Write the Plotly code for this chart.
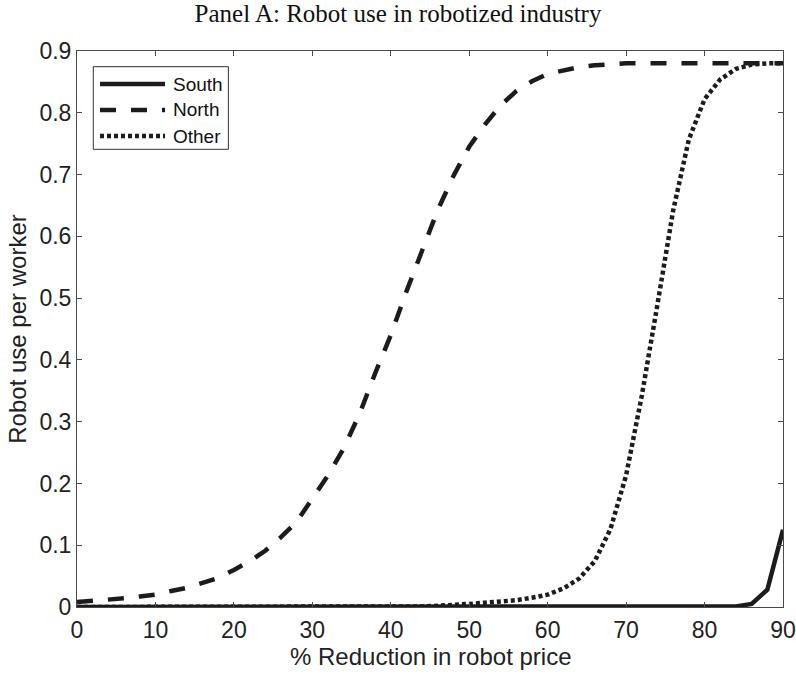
import plotly.graph_objects as go

reduction = list(range(0, 92, 2))  # % reduction in robot price

south = [0.0]*42 + [0.001, 0.005, 0.028, 0.125]

north = [0.008, 0.010, 0.011, 0.014, 0.017, 0.020, 0.026, 0.031, 0.039, 0.047,
         0.060, 0.074, 0.091, 0.113, 0.138, 0.175, 0.213, 0.257, 0.312, 0.378,
         0.440, 0.511, 0.575, 0.643, 0.698, 0.745, 0.781, 0.812, 0.835, 0.851,
         0.863, 0.869, 0.874, 0.877, 0.879, 0.880, 0.880, 0.880, 0.880, 0.880,
         0.880, 0.880, 0.880, 0.880, 0.880, 0.880]

other = [0.0]*21 + [0.001, 0.001, 0.002, 0.003, 0.005, 0.007, 0.009, 0.011, 0.015,
                    0.020, 0.030, 0.046, 0.074, 0.126, 0.213, 0.342, 0.490, 0.642,
                    0.757, 0.822, 0.854, 0.871, 0.878, 0.880, 0.880]

series_names = ["South", "North", "Other"]
x_ticks = [0, 10, 20, 30, 40, 50, 60, 70, 80, 90]
y_ticks = [0, 0.1, 0.2, 0.3, 0.4, 0.5, 0.6, 0.7, 0.8, 0.9]
y_tick_labels = ["0", "0.1", "0.2", "0.3", "0.4", "0.5", "0.6", "0.7", "0.8", "0.9"]

INK = "#1c1c1c"
styles = {"South": "solid", "North": "16px,15px", "Other": "4px,3px"}

fig = go.Figure()
for name, ys in zip(series_names, [south, north, other]):
    fig.add_trace(go.Scatter(x=reduction, y=ys, mode="lines", name=name,
                             line=dict(color=INK, width=4.5, dash=styles[name]),
                             cliponaxis=False, showlegend=False))

axis_common = dict(showgrid=False, zeroline=False, showline=True, linecolor="#4a4a4a",
                   linewidth=1, mirror="ticks", ticks="inside", ticklen=5, automargin=False,
                   tickcolor="#4a4a4a", tickfont=dict(family="Liberation Sans", size=23, color="#222"))

fig.update_layout(
    width=796, height=677,
    margin=dict(l=77, r=13, t=51, b=70),
    paper_bgcolor="white", plot_bgcolor="white",
    title=dict(text="Panel A: Robot use in robotized industry", x=0.5, xanchor="center",
               y=0.981, yanchor="middle",
               font=dict(family="Liberation Serif", size=25, color="#111")),
    xaxis=dict(range=[0, 90], tickvals=x_ticks, ticktext=[str(t) for t in x_ticks],
               ticklabelstandoff=2, **axis_common),
    yaxis=dict(range=[0, 0.9], tickvals=y_ticks, ticktext=y_tick_labels,
               title=dict(text="Robot use per worker", standoff=6,
                          font=dict(family="Liberation Sans", size=24, color="#222")),
               **axis_common),
)

fig.add_annotation(text="% Reduction in robot price", xref="paper", yref="paper",
                   x=0.5, y=-0.089, xanchor="center", yanchor="middle", showarrow=False,
                   font=dict(family="Liberation Sans", size=24, color="#222"))

# Legend drawn MATLAB-style (box with long line samples)
fig.add_shape(type="rect", xref="paper", yref="paper", x0=0.0231, x1=0.2144, y0=0.8232, y1=0.9718,
              line=dict(color="#333", width=1), fillcolor="white", layer="above")
leg_y = [0.9406, 0.8939, 0.8471]
for name, yy in zip(series_names, leg_y):
    fig.add_shape(type="line", xref="paper", yref="paper", x0=0.0326, x1=0.1247, y0=yy, y1=yy,
                  line=dict(color=INK, width=4.5, dash=styles[name]), layer="above")
    fig.add_annotation(text=name, xref="paper", yref="paper", x=0.1332, y=yy, xanchor="left",
                       yanchor="middle", showarrow=False,
                       font=dict(family="Liberation Sans", size=19, color="#111"))

fig.write_html("out.html", config={"displayModeBar": False},
               post_script="document.body.style.margin='0';")
